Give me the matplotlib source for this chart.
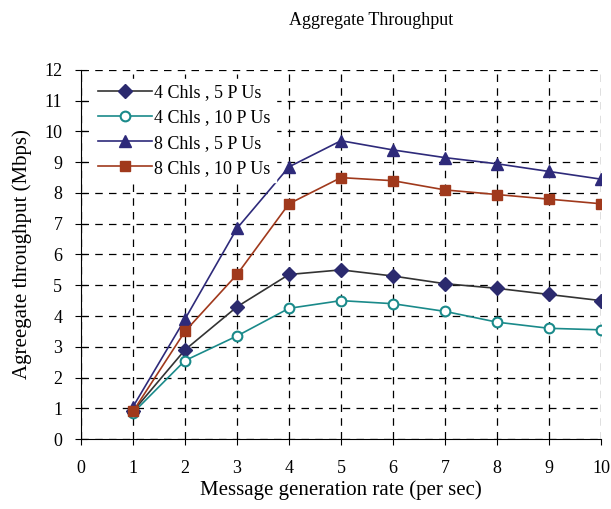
import numpy as np
import matplotlib.pyplot as plt

plt.rcParams['font.family'] = ['Liberation Serif', 'DejaVu Serif']

rate = [1, 2, 3, 4, 5, 6, 7, 8, 9, 10]
ch4_pu5 = [0.9, 2.9, 4.3, 5.35, 5.5, 5.3, 5.05, 4.9, 4.7, 4.5]
ch4_pu10 = [0.85, 2.55, 3.35, 4.25, 4.5, 4.4, 4.15, 3.8, 3.6, 3.55]
ch8_pu5 = [1.05, 3.9, 6.85, 8.85, 9.7, 9.4, 9.15, 8.95, 8.7, 8.45]
ch8_pu10 = [0.9, 3.5, 5.35, 7.65, 8.5, 8.4, 8.1, 7.95, 7.8, 7.65]

fig = plt.figure(figsize=(6.11, 5.09), dpi=100)
ax = fig.add_axes([0.1326, 0.1375, 0.851, 0.725])

ax.plot(rate, ch4_pu5, color='#333333', lw=1.2, marker='D', ms=7,
        mfc='#2B2A6E', mec='#2B2A6E', label='4 Chls , 5 P Us')
ax.plot(rate, ch4_pu10, color='#1A8A8A', lw=1.2, marker='o', ms=7,
        mfc='white', mec='#1A8A8A', mew=1.5, label='4 Chls , 10 P Us')
ax.plot(rate, ch8_pu5, color='#2E2A7A', lw=1.2, marker='^', ms=8,
        mfc='#2E2A7A', mec='#2E2A7A', label='8 Chls , 5 P Us')
ax.plot(rate, ch8_pu10, color='#A0391C', lw=1.2, marker='s', ms=7,
        mfc='#A0391C', mec='#A0391C', label='8 Chls , 10 P Us')

ax.set_xlim(0, 10)
ax.set_ylim(0, 12)
ax.set_xticks(range(0, 11))
ax.set_yticks(range(0, 13))
ax.grid(True, color='black', linestyle=(0, (6, 5)), lw=0.9)
ax.spines['top'].set_visible(False)
ax.spines['right'].set_visible(False)
ax.tick_params(axis='x', labelsize=13, direction='out', length=4.3, pad=11)
ax.tick_params(axis='y', labelsize=13, direction='inout', length=9, pad=9)

ax.set_xlabel('Message generation rate (per sec)', fontsize=15, labelpad=2)
ax.set_ylabel('Agreegate throughput (Mbps)', fontsize=15, labelpad=9)
fig.text(0.608, 0.96, 'Aggregate Throughput', ha='center', va='center', fontsize=13)

leg = ax.legend(loc='upper left', bbox_to_anchor=(0.005, 1.0), frameon=True,
                fontsize=13, handlelength=3, borderpad=0.3, labelspacing=0.45,
                handletextpad=0.1, fancybox=False)
leg.get_frame().set_edgecolor('white')
leg.get_frame().set_alpha(1)

fig.savefig('out.png', dpi=100)
